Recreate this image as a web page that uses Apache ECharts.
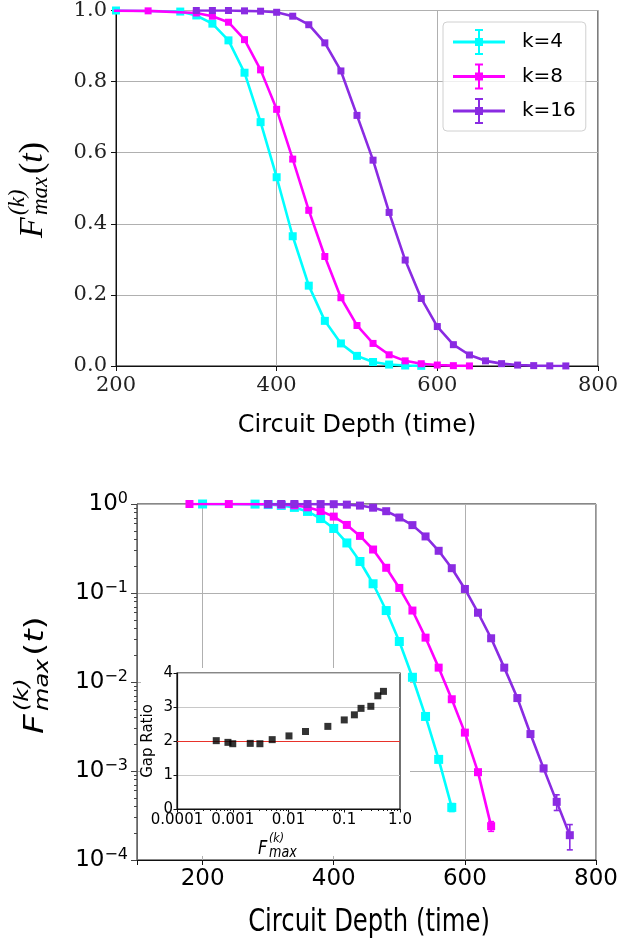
<!DOCTYPE html>
<html><head><meta charset="utf-8">
<script src="https://cdn.jsdelivr.net/npm/echarts@6/dist/echarts.min.js"></script>
<style>html,body{margin:0;padding:0;background:#fff}#c{width:621px;height:939px}</style>
</head><body><div id="c"></div>
<script>
// ---- data ----
const seriesNames = ['k=4', 'k=8', 'k=16'];
const cyanT = [200,280,300,320,340,360,380,400,420,440,460,480,500,520,540,560,580];
const cyanF = [1.0,0.997,0.986,0.963,0.916,0.825,0.686,0.531,0.365,0.226,0.127,0.0635,0.0285,0.0113,0.0041,0.00135,0.00039];
const cyanErr = [0,0.001,0.002,0.003,0.004,0.005,0.006,0.006,0.006,0.005,0.004,0.003,0.0015,0.0006,0.00025,0.0001,0.00004];
const magT = [180,240,300,320,340,360,380,400,420,440,460,480,500,520,540,560,580,600,620,640];
const magF = [1.0,0.999,0.993,0.984,0.967,0.918,0.833,0.722,0.582,0.438,0.308,0.192,0.114,0.0635,0.0315,0.0145,0.0064,0.0027,0.00097,0.00024];
const magErr = [0,0,0.001,0.002,0.003,0.004,0.005,0.006,0.006,0.006,0.005,0.004,0.003,0.002,0.001,0.0005,0.0002,0.0001,0.00005,0.00003];
const purT = [300,320,340,360,380,400,420,440,460,480,500,520,540,560,580,600,620,640,660,680,700,720,740,760];
const purF = [1.0,1.0,1.0,0.999,0.998,0.995,0.984,0.96,0.909,0.83,0.705,0.579,0.432,0.298,0.19,0.111,0.060,0.031,0.0145,0.0066,0.0026,0.00107,0.00045,0.00019];
const purErr = [0,0,0,0,0.001,0.001,0.002,0.003,0.004,0.005,0.006,0.006,0.006,0.005,0.004,0.003,0.002,0.001,0.0006,0.0003,0.00015,0.00008,0.00009,0.00006];
const gapX = [0.000506,0.00082,0.001,0.00206,0.00307,0.0051,0.0102,0.0202,0.0508,0.1,0.152,0.2,0.3,0.4,0.505];
const gapY = [2.01,1.96,1.92,1.93,1.92,2.04,2.15,2.28,2.43,2.62,2.77,2.96,3.02,3.33,3.46];
const gapRef = 2;
const linTicks = ['0.0','0.2','0.4','0.6','0.8','1.0'];
const insetXLabels = ['0.0001','0.001','0.01','0.1','1.0'];

const colors = ['#00ffff', '#ff00ff', '#8a2be2'];
const allT = [cyanT, magT, purT];
const allF = [cyanF, magF, purF];
const allE = [cyanErr, magErr, purErr];

const chart = echarts.init(document.getElementById('c'), null, {renderer: 'canvas'});

function lineSeries(k, xi, yi, size) {
  return {
    type: 'line', name: seriesNames[k], xAxisIndex: xi, yAxisIndex: yi,
    data: allT[k].map((t, i) => [t, allF[k][i]]),
    symbol: 'rect', symbolSize: size, showSymbol: true,
    lineStyle: {width: 2.6, color: colors[k]},
    itemStyle: {color: colors[k]},
    z: 2 + k * 0.1, animation: false, clip: true
  };
}
function errSeries(k, xi, yi) {
  return {
    type: 'custom', name: 'err' + k, xAxisIndex: xi, yAxisIndex: yi, silent: true, clip: true,
    z: 2 + k * 0.1,
    data: allT[k].map((t, i) => [t, allF[k][i] - allE[k][i], allF[k][i] + allE[k][i]]),
    renderItem: function (params, api) {
      const x = api.value(0);
      const lo = Math.max(api.value(1), 1e-6), hi = api.value(2);
      const p1 = api.coord([x, lo]), p2 = api.coord([x, hi]);
      const st = {stroke: colors[k], lineWidth: 1.6};
      return {type: 'group', children: [
        {type: 'line', shape: {x1: p1[0], y1: p1[1], x2: p2[0], y2: p2[1]}, style: st},
        {type: 'line', shape: {x1: p1[0] - 3, y1: p1[1], x2: p1[0] + 3, y2: p1[1]}, style: st},
        {type: 'line', shape: {x1: p2[0] - 3, y1: p2[1], x2: p2[0] + 3, y2: p2[1]}, style: st}
      ]};
    }
  };
}

const legendIcon = 'path://M0,11.5h52v3h-52zM25,1h2v24h-2zM22,0h8v2h-8zM22,24h8v2h-8zM22,9h8v8h-8z';

const serif = 'DejaVu Serif';
const mathSerif = 'Liberation Serif';
const sans = 'DejaVu Sans';
const gridColor = '#b0b0b0';

function txt(x, y, text, font, extra) {
  return Object.assign({type: 'text', x: x, y: y, z: 20, silent: true,
    style: {text: text, font: font, fill: '#000', verticalAlign: 'middle'}}, extra || {});
}

const option = {
  animation: false,
  backgroundColor: '#ffffff',
  grid: [
    {left: 116, top: 10, width: 483, height: 356, show: true, borderColor: '#111', borderWidth: 1},
    {left: 137, top: 504, width: 466, height: 356, show: true, borderColor: '#111', borderWidth: 1},
    {left: 177, top: 673, width: 223, height: 136, show: true, borderColor: '#111', borderWidth: 1.2, z: 3}
  ],
  xAxis: [
    {type: 'value', gridIndex: 0, min: 200, max: 800, interval: 200,
     axisLine: {show: true, lineStyle: {color: '#111', width: 1}},
     axisTick: {show: true, inside: false, length: 5, lineStyle: {color: '#111'}},
     axisLabel: {fontFamily: serif, fontSize: 21, color: '#222', margin: 9},
     splitLine: {show: true, lineStyle: {color: gridColor, width: 1}}},
    {type: 'value', gridIndex: 1, min: 100, max: 800, splitNumber: 3,
     axisLine: {show: true, lineStyle: {color: '#111', width: 1}},
     axisTick: {show: true, inside: false, length: 5, lineStyle: {color: '#111'}},
     axisLabel: {fontFamily: sans, fontSize: 23, color: '#000', margin: 8,
       formatter: v => (v % 200 === 0 ? String(v) : '')},
     splitLine: {show: true, lineStyle: {color: gridColor, width: 1}}},
    {type: 'log', gridIndex: 2, min: 1e-4, max: 1, logBase: 10, z: 3,
     axisLine: {show: true, lineStyle: {color: '#111', width: 1.2}},
     axisTick: {show: true, inside: false, length: 3.5, lineStyle: {color: '#111'}},
     minorTick: {show: true, splitNumber: 9, length: 2, lineStyle: {color: '#111'}},
     axisLabel: {fontFamily: sans, fontSize: 15, color: '#000', margin: 4,
       formatter: v => insetXLabels[Math.round(Math.log10(v)) + 4]},
     splitLine: {show: false}}
  ],
  yAxis: [
    {type: 'value', gridIndex: 0, min: 0, max: 1, interval: 0.2,
     axisLine: {show: true, lineStyle: {color: '#111', width: 1}},
     axisTick: {show: true, inside: false, length: 5, lineStyle: {color: '#111'}},
     axisLabel: {fontFamily: serif, fontSize: 21, color: '#222', margin: 9,
       formatter: v => linTicks[Math.round(v * 5)]},
     splitLine: {show: true, lineStyle: {color: gridColor, width: 1}}},
    {type: 'log', gridIndex: 1, min: 1e-4, max: 1, logBase: 10,
     axisLine: {show: true, lineStyle: {color: '#666', width: 1}},
     axisTick: {show: true, inside: false, length: 6, lineStyle: {color: '#444'}},
     minorTick: {show: true, splitNumber: 9, length: 3, lineStyle: {color: '#444'}},
     axisLabel: {margin: 9, color: '#000',
       formatter: v => {
         const e = Math.round(Math.log10(v));
         return '{b|10}{s|' + (e < 0 ? '\u2212' + (-e) : String(e)) + '}';
       },
       rich: {
         b: {fontFamily: sans, fontSize: 23, color: '#000', lineHeight: 26},
         s: {fontFamily: sans, fontSize: 16, color: '#000', verticalAlign: 'top', lineHeight: 26, padding: [0, 0, 10, 0]}
       }},
     splitLine: {show: true, lineStyle: {color: gridColor, width: 1}}},
    {type: 'value', gridIndex: 2, min: 0, max: 4, interval: 1, z: 3,
     axisLine: {show: true, lineStyle: {color: '#111', width: 1.2}},
     axisTick: {show: true, inside: false, length: 3.5, lineStyle: {color: '#111'}},
     axisLabel: {fontFamily: sans, fontSize: 15, color: '#000', margin: 4},
     splitLine: {show: true, lineStyle: {color: '#c8c8c8', width: 1}}}
  ],
  legend: {
    left: 443, top: 22, orient: 'vertical',
    padding: [7, 10, 7, 10], itemWidth: 52, itemHeight: 26, itemGap: 8.5,
    backgroundColor: 'rgba(255,255,255,0.8)', borderColor: '#d0d0d0', borderWidth: 1, borderRadius: 4,
    textStyle: {fontFamily: sans, fontSize: 20, color: '#000', padding: [0, 0, 0, 12]},
    itemStyle: {borderWidth: 0}, lineStyle: {width: 0},
    data: seriesNames.map(n => ({name: n, icon: legendIcon}))
  },
  series: [
    lineSeries(0, 0, 0, 8), errSeries(0, 0, 0),
    lineSeries(1, 0, 0, 7), errSeries(1, 0, 0),
    lineSeries(2, 0, 0, 7), errSeries(2, 0, 0),
    lineSeries(0, 1, 1, 9), errSeries(0, 1, 1),
    lineSeries(1, 1, 1, 8), errSeries(1, 1, 1),
    lineSeries(2, 1, 1, 8), errSeries(2, 1, 1),
    {type: 'scatter', name: 'gap', xAxisIndex: 2, yAxisIndex: 2, z: 5,
     symbol: 'rect', symbolSize: 7, itemStyle: {color: '#000'},
     data: gapX.map((x, i) => [x, gapY[i]]),
     markLine: {silent: true, symbol: 'none', label: {show: false},
       lineStyle: {color: '#e8322a', width: 1.2, type: 'solid'},
       data: [{yAxis: gapRef}]}}
  ],
  graphic: [
    // white backing behind inset (covers main grid lines)
    {type: 'rect', shape: {x: 141, y: 668, width: 269, height: 188}, style: {fill: '#fff'}, z: 1, silent: true},
    // top x title
    txt(357, 426, 'Circuit Depth (time)', '24px ' + sans, {style: {text: 'Circuit Depth (time)', font: '24px ' + sans, fill: '#000', align: 'center', verticalAlign: 'middle'}}),
    // top y title
    {type: 'group', x: 33, y: 238, rotation: Math.PI / 2, children: [
      txt(0, 0, 'F', 'italic 34px ' + mathSerif),
      txt(23, 8, 'max', 'italic 23px ' + mathSerif),
      txt(23, -15, '(k)', 'italic 23px ' + mathSerif),
      {type: 'text', x: 64, y: 0, z: 20, style: {text: '{a|(}{b|t}{a|)}', verticalAlign: 'middle',
        rich: {a: {font: '34px ' + mathSerif, fill: '#000'}, b: {font: 'italic 34px ' + mathSerif, fill: '#000'}}}}
    ]},
    // bottom x title
    {type: 'text', x: 369, y: 923, scaleX: 0.76, z: 20,
     style: {text: 'Circuit Depth (time)', font: '32px ' + sans, fill: '#000', align: 'center', verticalAlign: 'middle'}},
    // bottom y title
    {type: 'group', x: 36, y: 734, rotation: Math.PI / 2, scaleY: 0.8, children: [
      txt(0, 0, 'F', 'italic 34px ' + sans),
      txt(23, 9, 'max', 'italic 24px ' + sans),
      txt(23, -16, '(k)', 'italic 24px ' + sans),
      {type: 'text', x: 78, y: 0, z: 20, style: {text: '{a|(}{b|t}{a|)}', verticalAlign: 'middle',
        rich: {a: {font: '34px ' + sans, fill: '#000'}, b: {font: 'italic 34px ' + sans, fill: '#000'}}}}
    ]},
    // inset y title
    {type: 'text', x: 148, y: 741, rotation: Math.PI / 2, z: 20,
     style: {text: 'Gap Ratio', font: '15px ' + sans, fill: '#000', align: 'center', verticalAlign: 'middle'}},
    // inset x title
    {type: 'group', x: 258, y: 849, scaleX: 0.85, children: [
      txt(0, 0, 'F', 'italic 19px ' + sans),
      txt(13, 4, 'max', 'italic 15px ' + sans),
      txt(13, -10, '(k)', 'italic 13px ' + sans)
    ]}
  ]
};
chart.setOption(option);
</script>
</body></html>
